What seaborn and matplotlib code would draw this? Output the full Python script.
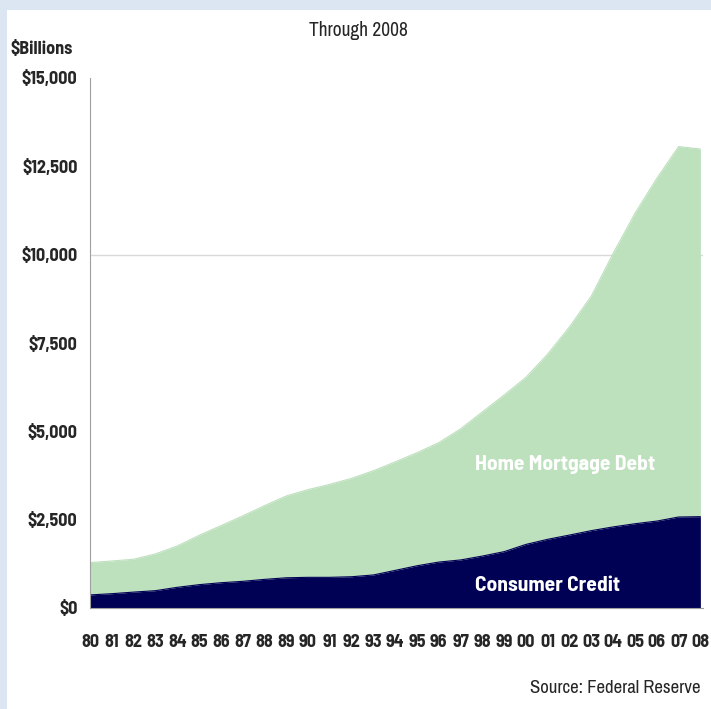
import numpy as np
import pandas as pd
import seaborn as sns
import matplotlib
matplotlib.use("Agg")
import matplotlib.pyplot as plt
from matplotlib.patches import Rectangle

years = list(range(1980, 2009))
year_labels = ["80", "81", "82", "83", "84", "85", "86", "87", "88", "89",
               "90", "91", "92", "93", "94", "95", "96", "97", "98", "99",
               "00", "01", "02", "03", "04", "05", "06", "07", "08"]
consumer_credit = [370, 405, 450, 490, 585, 660, 715, 755, 810, 855,
                   868, 868, 885, 935, 1065, 1195, 1300, 1360, 1470, 1595,
                   1800, 1945, 2065, 2190, 2295, 2385, 2460, 2575, 2585]
home_mortgage = [915, 925, 930, 1040, 1170, 1395, 1615, 1850, 2085, 2315,
                 2482, 2632, 2785, 2950, 3070, 3200, 3380, 3710, 4080, 4435,
                 4730, 5245, 5895, 6640, 7745, 8785, 9700, 10485, 10405]
y_ticks = [0, 2500, 5000, 7500, 10000, 12500, 15000]
y_tick_labels = ["$0", "$2,500", "$5,000", "$7,500", "$10,000", "$12,500", "$15,000"]

df = pd.DataFrame({"year": years, "consumer": consumer_credit, "mortgage": home_mortgage})
df["total"] = df["consumer"] + df["mortgage"]

sns.set_style("white")
REG = ["Archivo Narrow", "Liberation Sans", "DejaVu Sans"]
BOLD = ["Barlow Semi Condensed", "Liberation Sans", "DejaVu Sans"]
plt.rcParams["font.family"] = REG

GREEN = "#bde0bd"
NAVY = "#000055"
BG = "#dce6f2"

fig = plt.figure(figsize=(7.11, 7.09), dpi=100, facecolor=BG)
fig.patches.append(Rectangle((7 / 711, 0), 1 - 7 / 711, 1 - 10 / 709,
                             transform=fig.transFigure, facecolor="white",
                             edgecolor="none", zorder=-10))
ax = fig.add_axes([90 / 711, (709 - 608) / 709, (703 - 90) / 711, 530 / 709])
ax.set_facecolor("none")

ax.axhline(10000, color="#d9d9d9", lw=1, zorder=0)
ax.fill_between(df["year"], df["consumer"], df["total"], color=GREEN, lw=0, zorder=1)
ax.fill_between(df["year"], 0, df["consumer"], color=NAVY, lw=0, zorder=2)
sns.lineplot(data=df, x="year", y="total", ax=ax, color=GREEN, lw=0.8, zorder=1)
sns.lineplot(data=df, x="year", y="consumer", ax=ax, color=NAVY, lw=0.8, zorder=2)

ax.set_xlim(1980, 2008.12)
ax.set_ylim(0, 15000)
ax.set_xticks(years)
ax.set_xticklabels(year_labels, fontsize=13, fontweight="bold", family=BOLD)
ax.set_yticks(y_ticks)
ax.set_yticklabels(y_tick_labels, fontsize=13, fontweight="bold", family=BOLD)
ax.tick_params(axis="x", direction="out", length=5, width=0.8, color="#a0a0a0", pad=14)
ax.tick_params(axis="y", direction="in", length=3, width=0.8, color="#a0a0a0", pad=9)
ax.set_xlabel("")
ax.set_ylabel("")
for s in ["top", "right"]:
    ax.spines[s].set_visible(False)
for s in ["left", "bottom"]:
    ax.spines[s].set_color("#a0a0a0")
    ax.spines[s].set_linewidth(0.8)

ax.text(1997.65, 4050, "Home Mortgage Debt", color="white", fontsize=15.5,
        fontweight="bold", family=BOLD, ha="left", va="center", zorder=5)
ax.text(1997.65, 650, "Consumer Credit", color="white", fontsize=15.5,
        fontweight="bold", family=BOLD, ha="left", va="center", zorder=5)

fig.text(358 / 711, 1 - 30 / 709, "Through 2008", fontsize=14, ha="center", va="center")
fig.text(10 / 711, 1 - 50 / 709, "$Billions", fontsize=13, fontweight="bold", family=BOLD,
         ha="left", va="center")
fig.text(700 / 711, 1 - 688 / 709, "Source: Federal Reserve", fontsize=13.5, ha="right", va="center")

fig.savefig("out.png", dpi=100, facecolor=BG)
